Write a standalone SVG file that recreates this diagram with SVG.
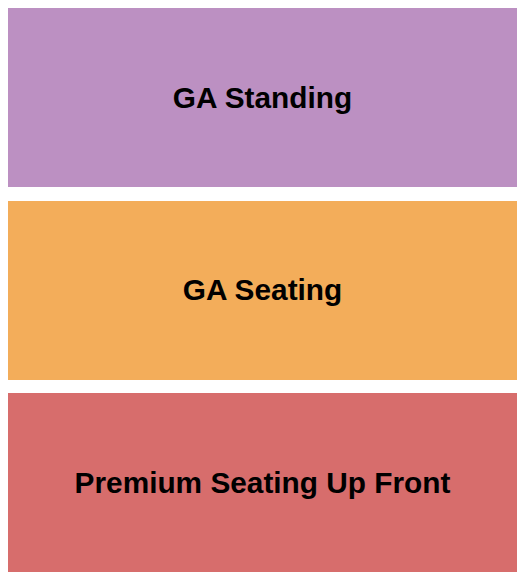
<svg xmlns="http://www.w3.org/2000/svg" width="525" height="580" viewBox="0 0 525 580">
<style>
.lbl{font-family:"Liberation Sans",Arial,sans-serif;font-weight:bold;font-size:29.8px;fill:#000;text-anchor:middle}
</style>
<rect width="525" height="580" fill="#fff"/>
<g id="ga-standing">
<rect x="8" y="8" width="509" height="179" fill="#BC90C2"/>
<text class="lbl" x="262.5" y="108">GA Standing</text>
</g>
<g id="ga-seating">
<rect x="8" y="201" width="509" height="179" fill="#F3AD5A"/>
<text class="lbl" x="262.5" y="300">GA Seating</text>
</g>
<g id="premium">
<rect x="8" y="393" width="509" height="179" fill="#D76D6C"/>
<text class="lbl" x="262.5" y="493">Premium Seating Up Front</text>
</g>
<g id="connectors"/>
</svg>
